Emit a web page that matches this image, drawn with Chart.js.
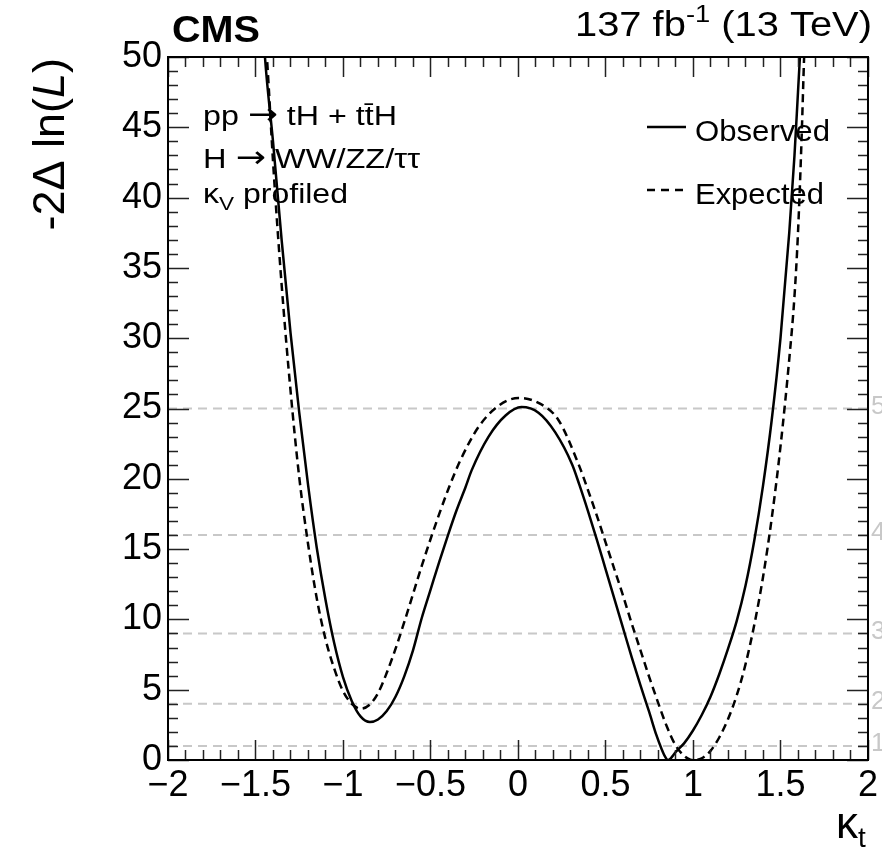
<!DOCTYPE html>
<html><head><meta charset="utf-8">
<script src="https://cdn.jsdelivr.net/npm/chart.js@4/dist/chart.umd.min.js"></script>
<style>html,body{margin:0;padding:0;background:#fff;}#c{display:block;}</style>
</head><body>
<canvas id="c" width="882" height="852"></canvas>
<script>
// ---- data ----
const obsKt  = [-1.47,-1.446,-1.40,-1.35,-1.30,-1.25,-1.20,-1.15,-1.10,-1.05,-1.00,-0.95,-0.90,-0.846,-0.80,-0.75,-0.70,-0.65,-0.60,-0.55,-0.50,-0.45,-0.40,-0.35,-0.30,-0.265,-0.168,-0.071,0.02,0.117,0.213,0.31,0.35,0.40,0.45,0.50,0.55,0.60,0.65,0.70,0.75,0.79,0.82,0.84,0.857,0.875,0.90,0.95,1.00,1.05,1.10,1.15,1.20,1.25,1.30,1.35,1.40,1.45,1.50,1.55,1.58,1.60,1.62,1.64];
const obsNll = [55,50,44,36.9,30.4,24.7,19.6,15.1,11.4,8.3,5.9,4.2,3.1,2.7,2.88,3.48,4.5,5.95,7.8,10.1,12.1,14.1,16.0,17.8,19.4,20.6,23.0,24.5,25.1,24.7,23.3,21.0,19.6,17.7,15.7,13.6,11.5,9.4,7.3,5.3,3.4,1.8,0.8,0.25,0,0.15,0.55,1.2,2.1,3.2,4.5,6.1,7.9,9.9,12.4,15.6,19.5,24.2,30,37.5,43,47.5,52,56];
const expKt  = [-1.47,-1.45,-1.425,-1.40,-1.35,-1.30,-1.25,-1.20,-1.15,-1.10,-1.05,-1.00,-0.95,-0.897,-0.85,-0.80,-0.75,-0.70,-0.65,-0.60,-0.55,-0.50,-0.45,-0.40,-0.33,-0.225,-0.11,0.003,0.117,0.23,0.344,0.40,0.45,0.50,0.55,0.60,0.65,0.70,0.75,0.80,0.85,0.90,0.95,0.985,1.01,1.05,1.10,1.15,1.20,1.25,1.30,1.35,1.40,1.45,1.50,1.55,1.58,1.60,1.62,1.635,1.65];
const expNll = [57,53,48,42.6,33.7,26.3,20.1,15.4,11.5,8.6,6.5,4.9,4.0,3.65,3.91,4.75,6.2,7.9,9.8,11.8,13.8,15.7,17.5,19.2,21.3,23.7,25.2,25.75,25.4,24.2,21.1,19.2,17.4,15.5,13.6,11.7,9.7,7.8,5.9,4.1,2.4,1.05,0.28,0.03,0,0.12,0.65,1.6,2.9,4.6,6.8,9.6,13,17.2,22.3,28.5,33,37.5,44,50,55];
const sigmaLevels = [1,4,9,16,25];
const sigmaLabels = ['1','2','3','4','5'];
const xTickValues = [-2,-1.5,-1,-0.5,0,0.5,1,1.5,2];
const xTickLabels = ['\u22122','\u22121.5','\u22121','\u22120.5','0','0.5','1','1.5','2'];
const yTickValues = [0,5,10,15,20,25,30,35,40,45,50];
const yTickLabels = ['0','5','10','15','20','25','30','35','40','45','50'];

const FONT = '"Liberation Sans", Arial, Helvetica, sans-serif';
const AFONT = '"DejaVu Sans", sans-serif';
const toPts = (xs, ys) => xs.map((v, i) => ({x: v, y: ys[i]}));

function drawRuns(ctx, runs, x, y, targetW) {
  let total = 0;
  for (const r of runs) { ctx.font = r.font; total += ctx.measureText(r.t).width; }
  const sx = targetW ? targetW / total : 1;
  ctx.save();
  ctx.translate(x, y);
  ctx.scale(sx, 1);
  let cx = 0;
  for (const r of runs) {
    ctx.font = r.font;
    ctx.fillText(r.t, cx, r.dy || 0);
    cx += ctx.measureText(r.t).width;
  }
  ctx.restore();
}

const decor = {
  id: 'decor',
  afterDatasetsDraw(chart) {
    const {ctx, chartArea: a, scales: {x, y}} = chart;
    ctx.save();
    ctx.strokeStyle = '#222';
    ctx.lineWidth = 1.5;
    ctx.beginPath();
    for (let i = 0; i <= 40; i++) {
      const px = Math.round(x.getPixelForValue(-2 + i * 0.1)) + 0.5;
      const L = (i % 5 === 0) ? 20 : 10;
      ctx.moveTo(px, a.bottom); ctx.lineTo(px, a.bottom - L);
      ctx.moveTo(px, a.top); ctx.lineTo(px, a.top + L);
    }
    for (let i = 0; i <= 50; i++) {
      const py = Math.round(y.getPixelForValue(i)) + 0.5;
      const L = (i % 5 === 0) ? 21 : 10;
      ctx.moveTo(a.left, py); ctx.lineTo(a.left + L, py);
      ctx.moveTo(a.right, py); ctx.lineTo(a.right - L, py);
    }
    ctx.stroke();
    ctx.strokeStyle = '#000';
    ctx.lineWidth = 2;
    ctx.strokeRect(a.left, a.top, a.right - a.left, a.bottom - a.top);

    ctx.fillStyle = '#c8c8c8';
    ctx.font = '26px ' + FONT;
    ctx.textBaseline = 'middle';
    ctx.textAlign = 'left';
    sigmaLevels.forEach((lv, i) => {
      ctx.fillText(sigmaLabels[i], a.right + 3, y.getPixelForValue(lv) - 2);
    });

    ctx.fillStyle = '#000';
    ctx.textBaseline = 'alphabetic';
    drawRuns(ctx, [{t: 'CMS', font: 'bold 37px ' + FONT}], 172, 42, 88);
    drawRuns(ctx, [
      {t: '137 fb', font: '35px ' + FONT},
      {t: '-1', font: '24px ' + FONT, dy: -14},
      {t: ' (13 TeV)', font: '35px ' + FONT}
    ], 575, 36, 297);
    drawRuns(ctx, [
      {t: 'pp ', font: '27px ' + FONT},
      {t: '\u2192', font: '30px ' + AFONT, dy: -1},
      {t: ' tH + tt\u0304H', font: '27px ' + FONT}
    ], 203, 125, 194);
    drawRuns(ctx, [
      {t: 'H ', font: '27px ' + FONT},
      {t: '\u2192', font: '30px ' + AFONT, dy: -1},
      {t: ' WW/ZZ/\u03C4\u03C4', font: '27px ' + FONT}
    ], 203, 168, 217);
    drawRuns(ctx, [
      {t: '\u03BA', font: '27px ' + FONT},
      {t: 'V', font: '19px ' + FONT, dy: 7},
      {t: ' profiled', font: '27px ' + FONT}
    ], 203, 203, 145);
    // legend
    ctx.strokeStyle = '#000';
    ctx.lineWidth = 2.5;
    ctx.beginPath(); ctx.moveTo(647, 127); ctx.lineTo(686, 127); ctx.stroke();
    ctx.setLineDash([8, 6]);
    ctx.beginPath(); ctx.moveTo(647, 190); ctx.lineTo(686, 190); ctx.stroke();
    ctx.setLineDash([]);
    drawRuns(ctx, [{t: 'Observed', font: '30px ' + FONT}], 695, 141, 135);
    drawRuns(ctx, [{t: 'Expected', font: '30px ' + FONT}], 695, 204, 129);
    drawRuns(ctx, [
      {t: '\u03BA', font: '44px ' + FONT},
      {t: 't', font: '28px ' + FONT, dy: 9}
    ], 836, 838, 0);
    ctx.save();
    ctx.translate(64, 58);
    ctx.rotate(-Math.PI / 2);
    const runs = [
      {t: '-2\u0394 ln(', font: '45px ' + FONT},
      {t: 'L', font: 'italic 45px ' + FONT},
      {t: ')', font: '45px ' + FONT}
    ];
    let tw = 0;
    for (const r of runs) { ctx.font = r.font; tw += ctx.measureText(r.t).width; }
    let cx = -tw;
    for (const r of runs) { ctx.font = r.font; ctx.fillText(r.t, cx, 0); cx += ctx.measureText(r.t).width; }
    ctx.restore();
    ctx.restore();
  }
};

const datasets = [
  {label: 'Observed', data: toPts(obsKt, obsNll), borderColor: '#000', borderWidth: 2.5,
   pointRadius: 0, showLine: true, cubicInterpolationMode: 'monotone', order: 1},
  {label: 'Expected', data: toPts(expKt, expNll), borderColor: '#000', borderWidth: 2.5, borderDash: [8, 5],
   pointRadius: 0, showLine: true, cubicInterpolationMode: 'monotone', order: 2}
];
sigmaLevels.forEach(lv => datasets.push({
  label: 'sigma' + lv, data: [{x: -2, y: lv}, {x: 2, y: lv}], borderColor: '#c8c8c8', borderWidth: 2,
  borderDash: [9, 6], pointRadius: 0, showLine: true, order: 10
}));

new Chart(document.getElementById('c'), {
  type: 'scatter',
  data: {datasets},
  options: {
    responsive: false, animation: false,
    layout: {padding: {top: 57, right: 11, left: 0, bottom: 0}, autoPadding: false},
    plugins: {legend: {display: false}, tooltip: {enabled: false}},
    scales: {
      x: {
        type: 'linear', min: -2, max: 2,
        grid: {display: false, drawTicks: false}, border: {display: false},
        afterBuildTicks: s => { s.ticks = xTickValues.map(v => ({value: v})); },
        afterFit: s => { s.height = 92; },
        ticks: {color: '#000', font: {family: FONT, size: 36}, padding: 4, maxRotation: 0, autoSkip: false,
          callback: (v) => xTickLabels[xTickValues.indexOf(v)]}
      },
      y: {
        type: 'linear', min: 0, max: 50,
        grid: {display: false, drawTicks: false}, border: {display: false},
        afterBuildTicks: s => { s.ticks = yTickValues.map(v => ({value: v})); },
        afterFit: s => { s.width = 168; },
        ticks: {color: '#000', font: {family: FONT, size: 36}, padding: 6,
          callback: (v) => yTickLabels[yTickValues.indexOf(v)]}
      }
    }
  },
  plugins: [decor]
});
</script>
</body></html>
